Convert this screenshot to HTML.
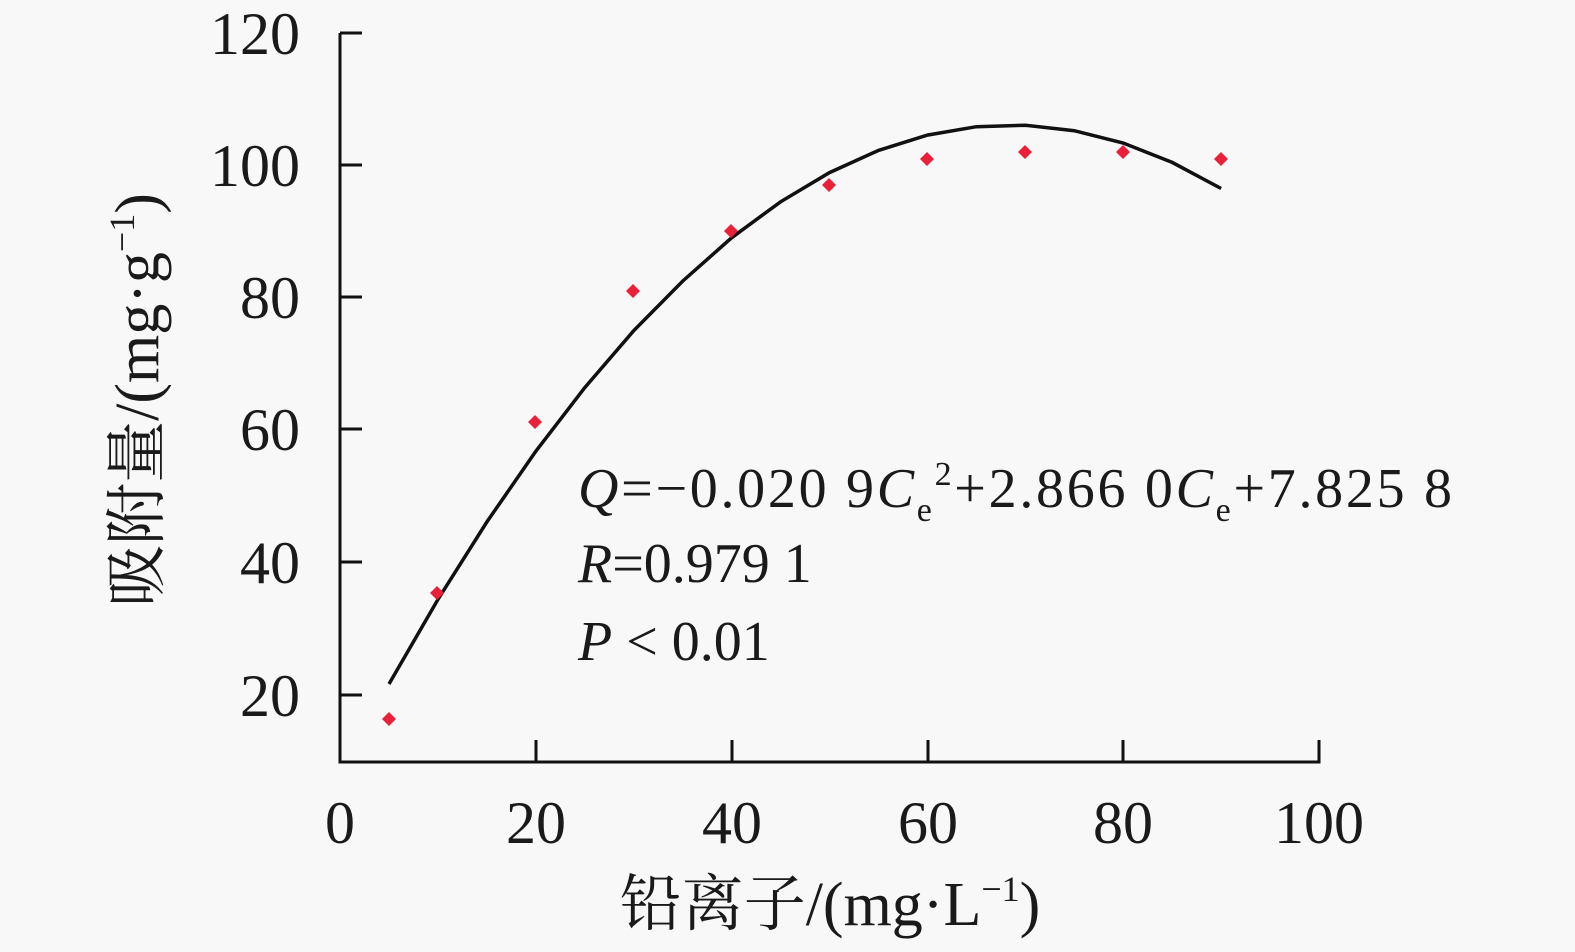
<!DOCTYPE html><html><head><style>body{margin:0;background:#f8f8f8}</style></head><body>
<svg width="1575" height="947" xmlns="http://www.w3.org/2000/svg" font-family="Liberation Serif, Noto Serif CJK SC, serif" fill="#1a1a1a">
<rect width="1575" height="947" fill="#f8f8f8"/>
<g stroke="#111" stroke-width="3" fill="none">
<path d="M340 33V762H1319V740"/>
<path d="M340 33H362M340 165H362M340 297H362M340 429H362M340 562H362M340 695H362"/>
<path d="M536 762V740M732 762V740M928 762V740M1123 762V740"/>
<polyline stroke-width="3.5" points="389,684 437.9,599.5 486.9,521.9 535.8,451.3 584.8,387.6 633.7,330.7 682.7,281.1 731.6,237.8 780.6,201.8 829.5,172.6 878.5,150.4 927.4,135.1 976.4,126.7 1025.3,125.2 1074.3,130.7 1123.2,143 1172.2,162.4 1221.1,188.5"/>
</g>
<g fill="#e8203a">
<path d="M389 712l7 7-7 7-7-7z M437 586l7 7-7 7-7-7z M535 415l7 7-7 7-7-7z M633 284l7 7-7 7-7-7z M731 224l7 7-7 7-7-7z M829 178l7 7-7 7-7-7z M927 152l7 7-7 7-7-7z M1025 145l7 7-7 7-7-7z M1123 145l7 7-7 7-7-7z M1221 152l7 7-7 7-7-7z"/>
</g>
<g font-size="60" text-anchor="end">
<text x="300" y="54">120</text><text x="300" y="186">100</text><text x="300" y="318">80</text><text x="300" y="450">60</text><text x="300" y="583">40</text><text x="300" y="716">20</text>
</g>
<g font-size="60" text-anchor="middle">
<text x="340" y="843">0</text><text x="536" y="843">20</text><text x="732" y="843">40</text><text x="928" y="843">60</text><text x="1123" y="843">80</text><text x="1319" y="843">100</text>
</g>
<text x="830" y="925" font-size="62" text-anchor="middle">铅离子/(mg·L<tspan font-size="36" dy="-24">−1</tspan><tspan dy="24">)</tspan></text>
<text transform="translate(158,400) rotate(-90)" font-size="62" text-anchor="middle">吸附量/(mg·g<tspan font-size="36" dy="-24">−1</tspan><tspan dy="24">)</tspan></text>
<g font-size="56">
<text x="578" y="507" textLength="874" lengthAdjust="spacing"><tspan font-style="italic">Q</tspan>=−0.020 9<tspan font-style="italic">C</tspan><tspan font-size="34" dy="14">e</tspan><tspan font-size="34" dy="-36">2</tspan><tspan dy="22">+2.866 0</tspan><tspan font-style="italic">C</tspan><tspan font-size="34" dy="14">e</tspan><tspan dy="-14">+7.825 8</tspan></text>
<text x="578" y="582"><tspan font-style="italic">R</tspan>=0.979 1</text>
<text x="578" y="660"><tspan font-style="italic">P</tspan> &lt; 0.01</text>
</g>
</svg></body></html>
